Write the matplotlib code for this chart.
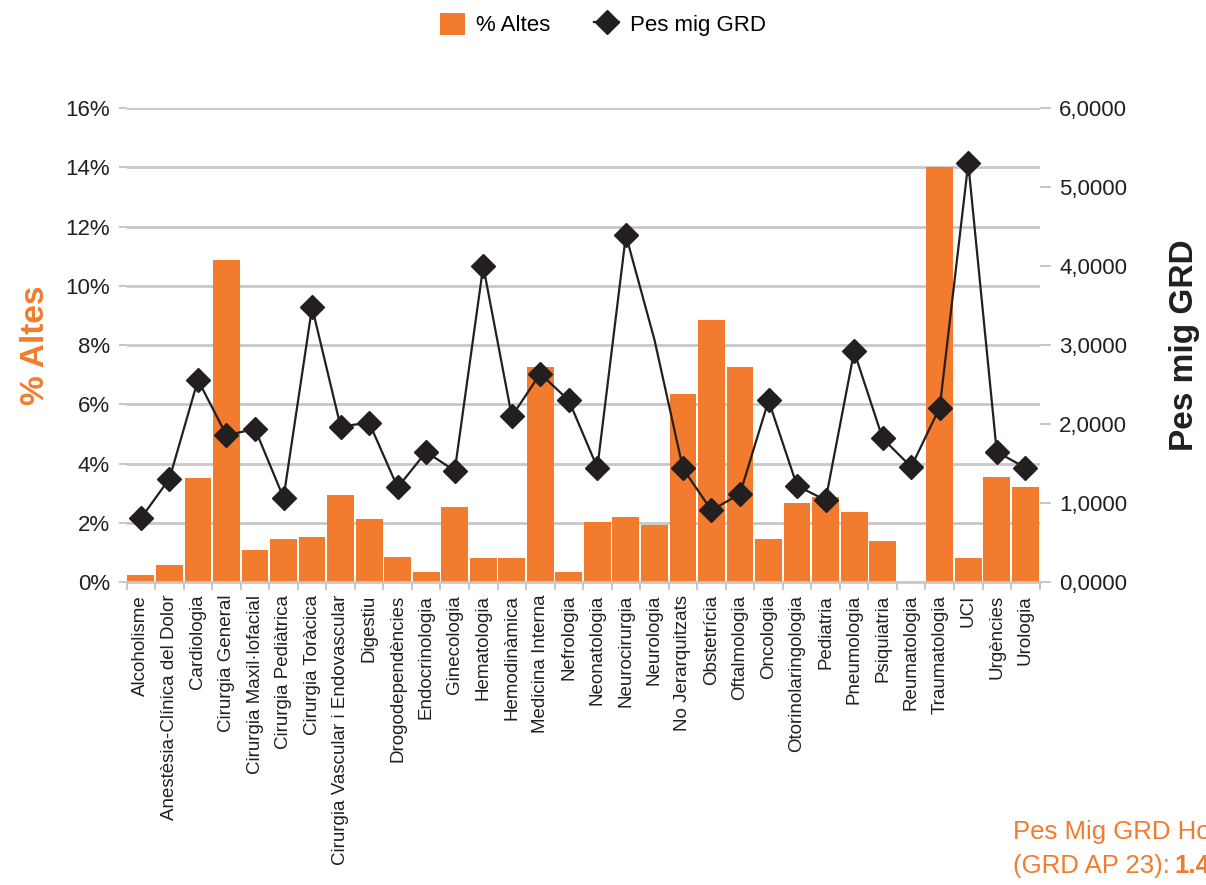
import matplotlib
matplotlib.use('Agg')
import matplotlib.pyplot as plt
import numpy as np

plt.rcParams['font.family'] = ['Liberation Sans', 'DejaVu Sans']

categories = ['Alcoholisme', 'Anestèsia-Clínica del Dolor', 'Cardiologia', 'Cirurgia General',
              'Cirurgia Maxil·lofacial', 'Cirurgia Pediàtrica', 'Cirurgia Toràcica',
              'Cirurgia Vascular i Endovascular', 'Digestiu', 'Drogodependències',
              'Endocrinologia', 'Ginecologia', 'Hematologia', 'Hemodinàmica', 'Medicina Interna',
              'Nefrologia', 'Neonatologia', 'Neurocirurgia', 'Neurologia', 'No Jerarquitzats',
              'Obstetrícia', 'Oftalmologia', 'Oncologia', 'Otorinolaringologia', 'Pediatria',
              'Pneumologia', 'Psiquiatria', 'Reumatologia', 'Traumatologia', 'UCI', 'Urgències',
              'Urologia']

# % altes per servei
altes = [0.25, 0.57, 3.51, 10.88, 1.08, 1.45, 1.52, 2.94, 2.13, 0.84, 0.34, 2.53, 0.81, 0.81,
         7.26, 0.34, 2.04, 2.20, 1.93, 6.35, 8.85, 7.26, 1.45, 2.67, 2.87, 2.36, 1.38, 0.0,
         14.02, 0.81, 3.55, 3.21]

# pes mig GRD per servei
pes = [0.81, 1.31, 2.56, 1.86, 1.94, 1.07, 3.48, 1.97, 2.02, 1.20, 1.65, 1.41, 4.00, 2.10,
       2.64, 2.30, 1.45, 4.39, 3.07, 1.44, 0.91, 1.12, 2.30, 1.22, 1.04, 2.92, 1.82, 1.46,
       2.21, 5.30, 1.65, 1.45]

# serveis sense marcador al grafic original
no_marker = ['Neurologia']

orange = '#F27B2E'
dark = '#231F20'
grid_gray = '#C8C8C8'
text_col = '#231F20'

fig = plt.figure(figsize=(12.06, 8.85), dpi=100)
ax = fig.add_axes([0.105, 0.342, 0.757, 0.536])
ax2 = ax.twinx()

x = np.arange(len(categories))
ax.bar(x, altes, width=0.94, color=orange, zorder=2, label='% Altes')
ax.set_xlim(-0.5, len(categories) - 0.5)
ax.set_ylim(0, 16)
ax.set_yticks(np.arange(0, 17, 2))
ax.set_yticklabels(['%d%%' % v for v in range(0, 17, 2)])
ax.yaxis.grid(True, color=grid_gray, linewidth=2)
ax.set_axisbelow(True)

ax.set_xticks(x)
ax.set_xticklabels(categories, rotation=90, fontsize=13.5, color=text_col)
ax.set_xticks(np.arange(-0.5, len(categories), 1), minor=True)
ax.tick_params(axis='x', which='major', length=0, pad=9)
ax.tick_params(axis='x', which='minor', length=6, width=1.5, color=grid_gray)
ax.tick_params(axis='y', length=6, width=1.5, color=grid_gray, labelsize=16,
               labelcolor=text_col, pad=6)

for sp in ['top', 'right', 'left']:
    ax.spines[sp].set_visible(False)
    ax2.spines[sp].set_visible(False)
ax.spines['bottom'].set_color(grid_gray)
ax.spines['bottom'].set_linewidth(2)
ax2.spines['bottom'].set_visible(False)

marks = [i for i, c in enumerate(categories) if c not in no_marker]
ax2.plot(x, pes, color=dark, linewidth=1.6, marker='D', markersize=12,
         markevery=marks, zorder=3, label='Pes mig GRD')
ax2.set_ylim(0, 6)
ax2.set_yticks(range(0, 7))
ax2.set_yticklabels([('%.4f' % v).replace('.', ',') for v in range(0, 7)])
ax2.tick_params(axis='y', length=8, width=1.5, color=grid_gray, labelsize=16,
                labelcolor=text_col, pad=6)

ax.set_ylabel('% Altes', color=orange, fontsize=24, fontweight='bold', labelpad=10)
ax2.set_ylabel('Pes mig GRD', color=dark, fontsize=24, fontweight='bold', labelpad=30)

h1, l1 = ax.get_legend_handles_labels()
h2, l2 = ax2.get_legend_handles_labels()
fig.legend(h1 + h2, l1 + l2, loc='center', bbox_to_anchor=(0.5, 0.972), ncol=2,
           frameon=False, fontsize=16, handlelength=1.1, handleheight=1.1,
           columnspacing=2.0, handletextpad=0.5)

fig.text(0.84, 0.052, 'Pes Mig GRD Hospital', color=orange, fontsize=18.5, va='baseline')
fig.text(0.84, 0.013, '(GRD AP 23): ', color=orange, fontsize=18.5, va='baseline')
fig.text(0.974, 0.013, '1.4', color=orange, fontsize=18.5, fontweight='bold', va='baseline')

fig.savefig('out.png', dpi=100)
